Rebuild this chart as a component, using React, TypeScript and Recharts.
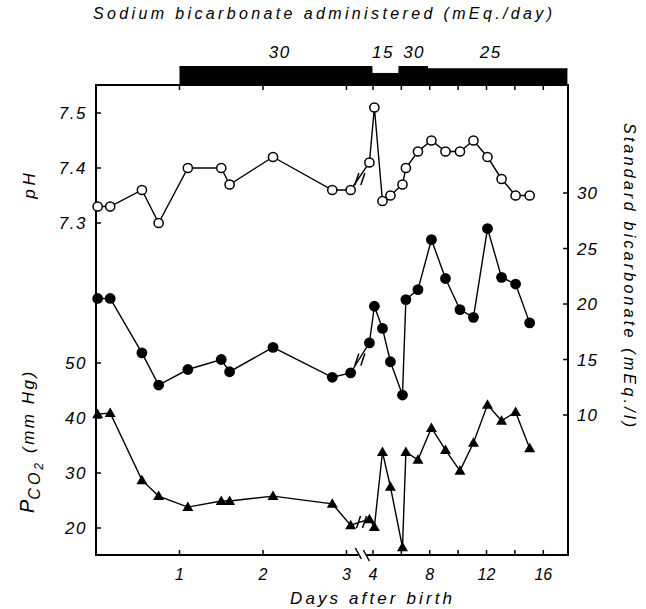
import { Area, ComposedChart, Line, ReferenceDot, XAxis, YAxis } from 'recharts';

// sampling times, days after birth
const days = [0.02, 0.17, 0.55, 0.75, 1.1, 1.5, 1.6, 2.12, 2.83, 3.05, 3.75, 4.1, 4.67, 5.23, 6.08, 6.32, 7.17, 8.12, 9.11, 10.13, 11.08, 12.07, 13.06, 14.05, 15.04];
const ph = [7.33, 7.33, 7.36, 7.3, 7.4, 7.4, 7.37, 7.42, 7.36, 7.36, 7.41, 7.51, 7.34, 7.35, 7.37, 7.4, 7.43, 7.45, 7.43, 7.43, 7.45, 7.42, 7.38, 7.35, 7.35];
const stdBicarb = [20.5, 20.5, 15.6, 12.7, 14.1, 15.0, 13.9, 16.1, 13.4, 13.8, 16.5, 19.8, 17.8, 14.8, 11.8, 20.4, 21.3, 25.8, 22.3, 19.5, 18.8, 26.8, 22.4, 21.8, 18.3];
const pco2 = [40.7, 40.9, 28.7, 25.8, 23.8, 24.9, 24.9, 25.8, 24.4, 20.5, 21.6, 20.2, 33.8, 27.5, 16.5, 33.8, 32.4, 38.2, 34.2, 30.4, 35.5, 42.4, 39.5, 41.1, 34.5];

const dayTicks = [1, 2, 3, 4, 6, 8, 10, 12, 14, 16];
const dayTickLabels = ['1', '2', '3', '4', '', '8', '', '12', '', '16'];
const phTicks = [7.3, 7.4, 7.5];
const pco2Ticks = [20, 30, 40, 50];
const bicarbTicks = [10, 15, 20, 25, 30];

// sodium bicarbonate given (mEq/day), each dose runs from its start day
const doseStartDays = [1, 3.93, 5.83, 7.84];
const doseValues = [30, 15, 30, 25];
const doseEndDay = 17.7;
const doseLabelDays = [2.2, 4.7, 6.9, 12.3];
const doseLabels = ['30', '15', '30', '25'];

// "//" breaks between day 3 and 4
const breakDay = 3.16;
const phBreak = 7.38;
const bicarbBreak = 15.0;
const pco2Break = 21.1;

// axis ranges
const X_MAX = 5.653;
const PH_DOMAIN: [number, number] = [6.6964, 7.5509];
const PCO2_DOMAIN: [number, number] = [15.09, 100.55];
const BICARB_DOMAIN: [number, number] = [-2.61, 39.73];
const DOSE_DOMAIN: [number, number] = [-10, 87.3];

// broken day axis: days 0-3 on a wide scale, days 4+ compressed
const LATE_START = 3.317;
const LATE_STEP = 0.17;
const pos = (d: number) => (d < 3.5 ? d : LATE_START + (d - 4) * LATE_STEP);

const rows = days.map((d, i) => ({ x: pos(d), ph: ph[i], bicarb: stdBicarb[i], pco2: pco2[i] }));
const doseRows = [
  ...doseStartDays.map((d, i) => ({ x: pos(d), dose: doseValues[i] })),
  { x: pos(doseEndDay), dose: doseValues[doseValues.length - 1] },
];

const FONT = "'Liberation Sans', Arial, sans-serif";
const PLOT_LEFT = 96;
const PLOT_RIGHT = 568;
const PLOT_TOP = 85;
const PLOT_BOTTOM = 555;

const labelStyle = { fontFamily: FONT, fontStyle: 'italic' as const, fontSize: 16, fill: '#000' };

const LeftTick = (props: any) => {
  const { y, payload, digits } = props;
  return (
    <g>
      <line x1={PLOT_LEFT} x2={PLOT_LEFT + 5} y1={y} y2={y} stroke="#000" strokeWidth={1.5} />
      <text x={87} y={y} dy="0.36em" textAnchor="end" letterSpacing={1.5} style={{ ...labelStyle, fontSize: 17 }}>
        {Number(payload.value).toFixed(digits)}
      </text>
    </g>
  );
};

const RightTick = (props: any) => {
  const { y, payload } = props;
  return (
    <g>
      <line x1={PLOT_RIGHT - 5} x2={PLOT_RIGHT} y1={y} y2={y} stroke="#000" strokeWidth={1.5} />
      <text x={577} y={y} dy="0.36em" textAnchor="start" letterSpacing={1} style={{ ...labelStyle, fontSize: 17 }}>
        {payload.value}
      </text>
    </g>
  );
};

const DayTick = (props: any) => {
  const { x, payload, index } = props;
  let i = typeof index === 'number' ? index : -1;
  if (i < 0) i = dayTicks.findIndex((d) => Math.abs(pos(d) - payload.value) < 1e-6);
  return (
    <g>
      <line x1={x} x2={x} y1={PLOT_BOTTOM} y2={PLOT_BOTTOM - 5} stroke="#000" strokeWidth={1.5} />
      <line x1={x} x2={x} y1={PLOT_TOP} y2={PLOT_TOP + 5} stroke="#000" strokeWidth={1.5} />
      <text x={x} y={580} textAnchor="middle" style={labelStyle}>
        {dayTickLabels[i] ?? ''}
      </text>
    </g>
  );
};

const OpenDot = (p: any) => (
  <circle key={`o${p.index}`} cx={p.cx} cy={p.cy} r={4.6} fill="#fff" stroke="#000" strokeWidth={1.5} />
);
const FilledDot = (p: any) => <circle key={`f${p.index}`} cx={p.cx} cy={p.cy} r={5.4} fill="#000" />;
const TriangleDot = (p: any) => (
  <polygon
    key={`t${p.index}`}
    points={`${p.cx},${p.cy - 5.5} ${p.cx - 5.5},${p.cy + 4} ${p.cx + 5.5},${p.cy + 4}`}
    fill="#000"
  />
);

const SeriesBreak = (p: any) => (
  <g>
    <line x1={p.cx - 5} y1={p.cy + 6} x2={p.cx - 1} y2={p.cy - 6} stroke="#000" strokeWidth={1.5} />
    <line x1={p.cx + 1} y1={p.cy + 6} x2={p.cx + 5} y2={p.cy - 6} stroke="#000" strokeWidth={1.5} />
  </g>
);

const AxisBreak = (p: any) => (
  <g>
    <rect x={p.cx - 4} y={p.cy - 3} width={8} height={6} fill="#fff" />
    <line x1={p.cx - 7} y1={p.cy - 7} x2={p.cx - 1} y2={p.cy + 4} stroke="#000" strokeWidth={1.5} />
    <line x1={p.cx + 1} y1={p.cy - 5} x2={p.cx + 7} y2={p.cy + 6} stroke="#000" strokeWidth={1.5} />
  </g>
);

export default function App() {
  return (
    <div style={{ position: 'absolute', left: 0, top: 0, width: 646, height: 609, background: '#fff' }}>
      {/* plot frame, under the charts so the axis break can cut it */}
      <svg width={646} height={609} style={{ position: 'absolute', left: 0, top: 0 }}>
        <rect
          x={PLOT_LEFT}
          y={PLOT_TOP}
          width={PLOT_RIGHT - PLOT_LEFT}
          height={PLOT_BOTTOM - PLOT_TOP}
          fill="none"
          stroke="#000"
          strokeWidth={2}
        />
      </svg>

      <div style={{ position: 'absolute', left: 0, top: 0 }}>
        <ComposedChart width={646} height={609} data={rows} margin={{ top: PLOT_TOP, right: 38, bottom: 24, left: 16 }}>
          <XAxis
            dataKey="x"
            type="number"
            domain={[0, X_MAX]}
            ticks={dayTicks.map(pos)}
            interval={0}
            height={30}
            axisLine={false}
            tickLine={false}
            tick={<DayTick />}
          />
          <YAxis
            yAxisId="ph"
            type="number"
            domain={PH_DOMAIN}
            ticks={phTicks}
            interval={0}
            width={40}
            axisLine={false}
            tickLine={false}
            tick={<LeftTick digits={1} />}
          />
          <YAxis
            yAxisId="pco2"
            type="number"
            domain={PCO2_DOMAIN}
            ticks={pco2Ticks}
            interval={0}
            width={40}
            axisLine={false}
            tickLine={false}
            tick={<LeftTick digits={0} />}
          />
          <YAxis
            yAxisId="bicarb"
            orientation="right"
            type="number"
            domain={BICARB_DOMAIN}
            ticks={bicarbTicks}
            interval={0}
            width={40}
            axisLine={false}
            tickLine={false}
            tick={<RightTick />}
          />
          <Line yAxisId="ph" dataKey="ph" stroke="#000" strokeWidth={1.4} dot={OpenDot} activeDot={false} isAnimationActive={false} />
          <Line yAxisId="bicarb" dataKey="bicarb" stroke="#000" strokeWidth={1.4} dot={FilledDot} activeDot={false} isAnimationActive={false} />
          <Line yAxisId="pco2" dataKey="pco2" stroke="#000" strokeWidth={1.4} dot={TriangleDot} activeDot={false} isAnimationActive={false} />
          <ReferenceDot yAxisId="ph" x={breakDay} y={phBreak} shape={SeriesBreak} ifOverflow="visible" />
          <ReferenceDot yAxisId="bicarb" x={breakDay} y={bicarbBreak} shape={SeriesBreak} ifOverflow="visible" />
          <ReferenceDot yAxisId="pco2" x={breakDay + 0.02} y={pco2Break} shape={SeriesBreak} ifOverflow="visible" />
          <ReferenceDot yAxisId="pco2" x={breakDay + 0.03} y={PCO2_DOMAIN[0]} shape={AxisBreak} ifOverflow="visible" />
        </ComposedChart>
      </div>

      <div style={{ position: 'absolute', left: 0, top: 0 }}>
        <ComposedChart width={646} height={90} data={doseRows} margin={{ top: 40, right: 78, bottom: 5, left: PLOT_LEFT }}>
          <XAxis dataKey="x" type="number" domain={[0, X_MAX]} hide />
          <YAxis type="number" domain={DOSE_DOMAIN} hide />
          <Area
            type="stepAfter"
            dataKey="dose"
            stroke="#000"
            strokeWidth={1}
            fill="#000"
            fillOpacity={1}
            baseValue="dataMin"
            dot={false}
            activeDot={false}
            isAnimationActive={false}
          />
          {doseLabelDays.map((d, i) => (
            <ReferenceDot
              key={i}
              x={pos(d)}
              y={doseValues[i]}
              ifOverflow="visible"
              shape={(p: any) => (
                <text x={p.cx} y={58} textAnchor="middle" letterSpacing={1.5} style={{ ...labelStyle, fontSize: 17 }}>
                  {doseLabels[i]}
                </text>
              )}
            />
          ))}
        </ComposedChart>
      </div>

      <svg width={646} height={609} style={{ position: 'absolute', left: 0, top: 0, pointerEvents: 'none' }}>
        <text x={93} y={19} textLength={459} lengthAdjust="spacing" style={labelStyle}>
          Sodium bicarbonate administered (mEq./day)
        </text>
        <text x={290} y={604} textLength={162} lengthAdjust="spacing" style={{ ...labelStyle, fontSize: 17 }}>
          Days after birth
        </text>
        <text transform="translate(35,184) rotate(-90)" textAnchor="middle" letterSpacing={4} style={{ ...labelStyle, fontSize: 17 }}>
          pH
        </text>
        <text transform="translate(34,513) rotate(-90)" style={labelStyle}>
          <tspan fontSize={20}>P</tspan>
          <tspan fontSize={16} dy={6} letterSpacing={3}>CO</tspan>
          <tspan fontSize={12} dy={3}>2</tspan>
          <tspan fontSize={17} dy={-9} dx={10} letterSpacing={2.5}>(mm Hg)</tspan>
        </text>
        <text transform="translate(624,123) rotate(90)" textLength={304} lengthAdjust="spacing" style={labelStyle}>
          Standard bicarbonate (mEq./l)
        </text>
      </svg>
    </div>
  );
}
